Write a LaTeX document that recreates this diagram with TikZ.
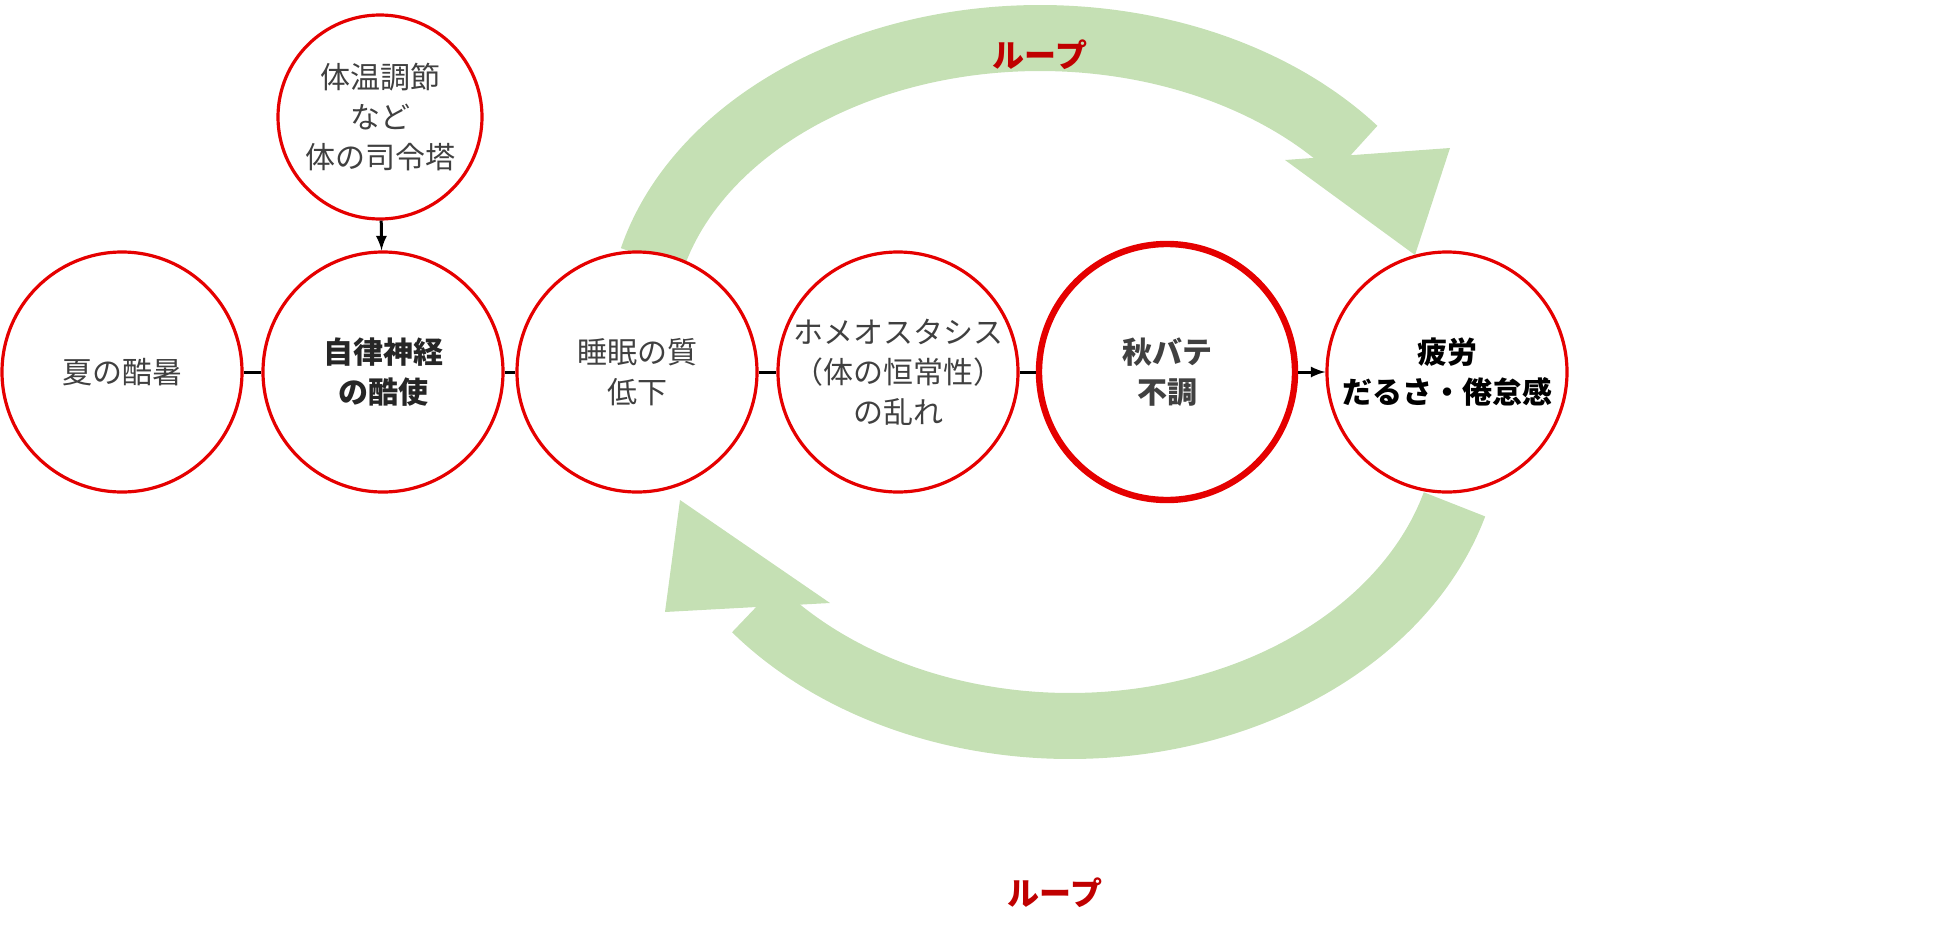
\documentclass[tikz,border=0pt]{standalone}
\usepackage{fontspec}
\setmainfont{Noto Sans CJK JP}
\begin{document}
\begin{tikzpicture}[x=0.5pt,y=-0.5pt,
  circ/.style={circle,draw=red!90!black,fill=white,line width=1.6pt,minimum size=120pt,inner sep=0pt,align=center,text=black!75,font=\fontsize{15}{20}\selectfont},
  link/.style={line width=1.5pt,black},
  looptext/.style={text={rgb,255:red,192;green,0;blue,0},font=\bfseries\fontsize{16}{18}\selectfont}]
\definecolor{lg}{RGB}{197,224,180}
\useasboundingbox (0,0) rectangle (1950,948);
% loops
\draw[line width=33pt,lg] plot[smooth,domain=166:38,samples=60] ({1040+400*cos(\x)},{330-292*sin(\x)});
\fill[lg] (1285,160) -- (1450,148) -- (1415,255) -- cycle;
\draw[line width=33pt,lg] plot[smooth,domain=16:142,samples=60] ({1070+400*cos(\x)},{420+306*sin(\x)});
\fill[lg] (665,612) -- (830,603) -- (680,500) -- cycle;
\node[looptext] (l1) at (1040,55) {ループ};
\node[looptext] (l2) at (1055,893) {ループ};
% circles
\node[circ,font=\bfseries\fontsize{15}{20}\selectfont,text=black!85] (b) at (383,372) {自律神経\\の酷使};
\node[circ] (a) at (122,372) {夏の酷暑};
\node[circ] (c) at (637,372) {睡眠の質\\低下};
\node[circ] (d) at (898,372) {ホメオスタシス\\（体の恒常性）\\の乱れ};
\node[circ,line width=3.2pt,minimum size=128pt,font=\bfseries\fontsize{15}{20}\selectfont] (e) at (1167,372) {秋バテ\\不調};
\node[circ,font=\bfseries\fontsize{15}{20}\selectfont,text=black] (f) at (1447,372) {疲労\\だるさ・倦怠感};
\node[circ,minimum size=102pt] (t) at (380,117) {体温調節\\など\\体の司令塔};
\draw[link] (a) -- (b);
\draw[link] (b) -- (c);
\draw[link] (c) -- (d);
\draw[link] (d) -- (e);
\draw[link,-latex] (e) -- (f);
\draw[link,-latex] (t) -- (b);
\end{tikzpicture}
\end{document}
